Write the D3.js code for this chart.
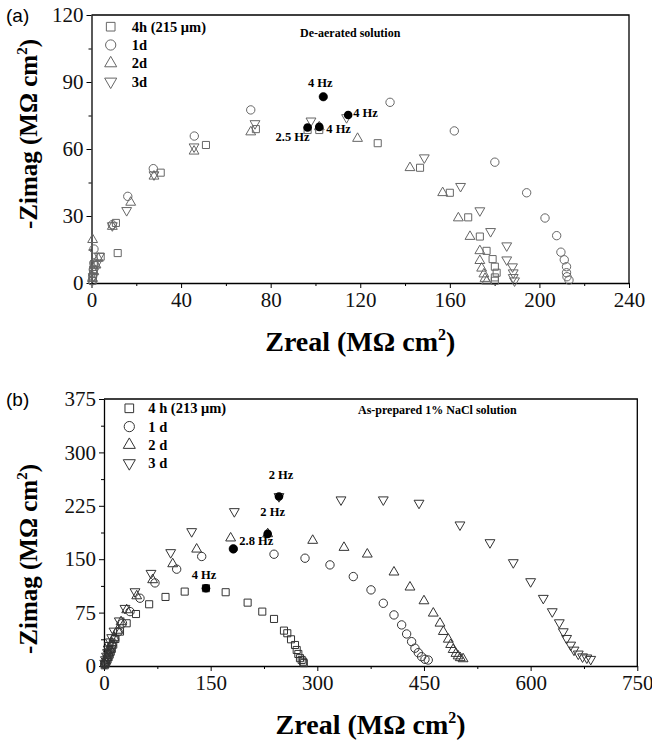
<!DOCTYPE html>
<html>
<head>
<meta charset="utf-8">
<script src="https://cdn.jsdelivr.net/npm/d3@7"></script>
<style>
  body { margin: 0; background: #fff; }
  svg { display: block; }
</style>
</head>
<body>
<svg id="chart" width="652" height="740"></svg>
<script>
// ---- panel (a) data, de-aerated solution ----
const seriesNamesA = ["4h (215 \u03bcm)", "1d", "2d", "3d"]
const h4A = [[0.5,1],[0.6,2.5],[0.7,4],[0.8,6],[1,8],[4.1,11.8],[11.7,13.4],[10.9,26.9],[30.9,49.4],[51.1,61.8],[73.4,68.9],[96.5,68.5],[101.7,68.5],[127.8,62.6],[146.7,51.6],[160,40.4],[168.2,29.4],[173.4,20.8],[176.4,14.4],[179.1,10.7],[180.1,7.3],[180.9,4.6],[180.1,2.5],[180.1,1]]
const d1A = [[0.3,1],[0.5,3],[0.8,6],[1.1,9],[1.1,15.2],[9.3,26.1],[16.2,38.8],[27.6,51.2],[45.9,65.8],[71.1,77.5],[103.5,83.4],[133.3,80.9],[162,68.1],[180.1,54.1],[194.3,40.4],[202.5,29.1],[207.7,21.2],[209.6,13.8],[211.1,10.4],[212.1,7.3],[212.1,4.6],[212.3,2.8],[213.2,1.3]]
const d2A = [[0.5,2],[1,5],[2,8],[3,11],[0.5,19.4],[9.3,25.3],[17.5,36.1],[27.9,47.8],[45.8,59],[71.1,67.6],[101.7,69.9],[118.8,64.7],[142.2,51.6],[156.8,40.4],[163.8,29.1],[169,20.8],[173.4,14.4],[173.4,10],[174.2,6.6],[175.2,4],[175.7,2],[176.5,0.8]]
const d3A = [[0.8,3],[1.5,6],[2.5,9],[3.5,12],[9.3,25.7],[15.7,32.5],[27.9,48.5],[45.8,61],[73,71.4],[98,72.6],[113.9,74.1],[148.6,56.1],[164.8,43.3],[173.4,32.4],[178.2,23.1],[185.4,16.7],[185.4,10.4],[188,7.3],[188.3,4.6],[188.3,2.5],[188.9,1]]
const peaksA = [[96.5,69.6],[103.5,83.4],[101.7,69.9],[114.6,75.2]]
const peakLabelsA = ["2.5 Hz", "4 Hz", "4 Hz", "4 Hz"]
const xTicksA = [0, 40, 80, 120, 160, 200, 240]
const yTicksA = [0, 30, 60, 90, 120]

// ---- panel (b) data, as-prepared 1% NaCl solution ----
const seriesNamesB = ["4 h (213 \u03bcm)", "1 d", "2 d", "3 d"]
const h4B = [[1,1],[2,3],[3.5,6],[5,9],[6.5,12.5],[8,16],[9.5,20],[11,24],[13,30],[16,38],[22.5,48.3],[31.9,60],[45,73],[63.5,86.7],[86.5,97],[113.5,104.5],[143.4,109.2],[171.1,103.6],[202,89],[222.6,76.4],[239.1,66.1],[253.1,49.7],[257.8,46],[263,37.5],[268.6,29.5],[271,22.5],[273.3,16.9],[275.6,11],[278,8.5],[280,6],[281,4]]
const d1B = [[1,2],[2,5],[4,10],[6,16],[8,22],[11,30],[15,38],[20,48],[26,60],[36.6,76.4],[50.6,95.2],[71.7,116.7],[102.2,136],[137.4,153.8],[181.9,164.5],[239.1,157],[282.7,151.4],[317.8,142],[350.6,125.6],[375.5,106.9],[392.8,88.1],[407.8,71.7],[418.6,57.7],[425.6,45],[432.6,34.2],[437.3,25],[442,18.7],[446.7,13.1],[451.4,9.4],[456,8.4]]
const d2B = [[1,3],[2,7],[4,12],[6,18],[8,25],[11,32],[14,40],[19,50],[24,62],[31.9,78.8],[46,98.4],[68.4,121],[96.6,143.4],[130.3,164],[178.1,179.6],[230.2,185.6],[293.5,176.3],[337.5,166.4],[370.3,157],[407.8,131.8],[430.3,110.7],[450,91.4],[463.1,74.1],[472.5,60],[477.2,48.3],[484.2,37.5],[487.5,30],[491,23],[495,17.5],[498,14],[501,11.5],[505,10]]
const d3B = [[1,4],[2,9],[3.5,14],[5,19],[6,24],[7.5,29],[9,34],[10.8,40],[14.1,49.2],[21.5,63.5],[29.5,81.1],[43.6,104.5],[66.1,130.3],[93.8,159.4],[123.3,188.9],[183.3,217],[246.1,238.1],[333.3,233.5],[392.8,233.5],[443,228.8],[500.6,198.3],[542.8,173.4],[575.6,145.3],[600,118.6],[617.8,95.2],[630.4,76.4],[640.3,60.9],[645.9,48.3],[650.6,38.9],[656.3,29.5],[661,22.5],[667,17],[673,13],[679,11.5],[684.5,9.5]]
const peaksB = [[143.4,109.2],[181.9,164.5],[230.2,185.6],[246.1,238.1]]
const peakLabelsB = ["4 Hz", "2.8 Hz", "2 Hz", "2 Hz"]
const xTicksB = [0, 150, 300, 450, 600, 750]
const yTicksB = [0, 75, 150, 225, 300, 375]

const serif = "'Liberation Serif', 'Times New Roman', serif"
const sans = "'Liberation Sans', Arial, sans-serif"

const svg = d3.select("#chart")

// marker shapes: square, circle, up triangle, down triangle
const shapes = [
    {type: d3.symbolSquare, size: 50, rot: 0},
    {type: d3.symbolCircle, size: 55, rot: 0},
    {type: d3.symbolTriangle, size: 42, rot: 0},
    {type: d3.symbolTriangle, size: 42, rot: 180}
]

const drawPanel = (cfg) => {
    let x = d3.scaleLinear().domain(cfg.xDomain).range([cfg.left, cfg.right]),
        y = d3.scaleLinear().domain(cfg.yDomain).range([cfg.bottom, cfg.top])

    let g = svg.append("g")

    // box top + right
    g.append("path")
        .attr("d", `M${cfg.left},${cfg.top}H${cfg.right}V${cfg.bottom}`)
        .attr("fill", "none").attr("stroke", "#000").attr("stroke-width", 1.3)

    // minor ticks
    let xStep = cfg.xTicks[1] - cfg.xTicks[0], yStep = cfg.yTicks[1] - cfg.yTicks[0]
    g.append("g").attr("transform", `translate(0,${cfg.bottom})`)
        .call(d3.axisBottom(x).tickValues(cfg.xTicks.slice(1).map(v => v - xStep / 2)).tickSize(3).tickFormat(""))
        .call(a => a.select(".domain").remove())
    g.append("g").attr("transform", `translate(${cfg.left},0)`)
        .call(d3.axisLeft(y).tickValues(cfg.yTicks.slice(1).map(v => v - yStep / 2)).tickSize(3).tickFormat(""))
        .call(a => a.select(".domain").remove())

    let xAxis = g.append("g").attr("transform", `translate(0,${cfg.bottom})`)
        .call(d3.axisBottom(x).tickValues(cfg.xTicks).tickSize(5).tickSizeOuter(0).tickPadding(4))
    let yAxis = g.append("g").attr("transform", `translate(${cfg.left},0)`)
        .call(d3.axisLeft(y).tickValues(cfg.yTicks).tickSize(5).tickSizeOuter(0).tickPadding(3))

    for (let ax of [xAxis, yAxis]) {
        ax.selectAll("text").style("font-family", serif).style("font-size", "21px").attr("fill", "#111")
        ax.select(".domain").attr("stroke-width", 1.3)
    }
    g.selectAll(".tick line").attr("stroke", "#000").attr("stroke-width", 1)

    // data points
    cfg.series.forEach((data, i) => {
        let s = shapes[i]
        g.append("g").selectAll("path")
            .data(data)
            .enter().append("path")
            .attr("d", d3.symbol().type(s.type).size(s.size))
            .attr("transform", d => `translate(${x(d[0])},${y(d[1])}) rotate(${s.rot})`)
            .attr("fill", "#fff").attr("fill-opacity", 0)
            .attr("stroke", cfg.markColor).attr("stroke-width", 1)
    })

    // characteristic frequency points
    g.append("g").selectAll("circle")
        .data(cfg.peaks)
        .enter().append("circle")
        .attr("cx", d => x(d[0])).attr("cy", d => y(d[1]))
        .attr("r", 4.3).attr("fill", "#000")

    g.append("g").selectAll("text")
        .data(cfg.peaks)
        .enter().append("text")
        .attr("x", (d, i) => x(d[0]) + cfg.labelOff[i][0])
        .attr("y", (d, i) => y(d[1]) + cfg.labelOff[i][1])
        .attr("text-anchor", (d, i) => cfg.labelOff[i][2])
        .style("font-family", serif).style("font-weight", "bold").style("font-size", "12.5px")
        .text((d, i) => cfg.peakLabels[i])

    // legend
    let leg = g.append("g").selectAll("g")
        .data(cfg.names)
        .enter().append("g")
        .attr("transform", (d, i) => `translate(${cfg.legX},${cfg.legY + i * 18.3})`)
    leg.append("path")
        .attr("d", (d, i) => d3.symbol().type(shapes[i].type).size(shapes[i].size * 1.5)())
        .attr("transform", (d, i) => `rotate(${shapes[i].rot})`)
        .attr("fill", "none").attr("stroke", cfg.markColor).attr("stroke-width", 1)
    leg.append("text")
        .attr("x", cfg.legText).attr("y", 5)
        .style("font-family", serif).style("font-weight", "bold").style("font-size", "14.5px")
        .text(d => d)

    g.append("text")
        .attr("x", cfg.noteX).attr("y", cfg.noteY)
        .style("font-family", serif).style("font-weight", "bold").style("font-size", "12px")
        .text(cfg.note)

    // panel letter
    g.append("text")
        .attr("x", 6).attr("y", cfg.top + 7)
        .style("font-family", sans).style("font-size", "19px")
        .text(cfg.letter)

    // axis titles
    let xt = g.append("text")
        .attr("x", (cfg.left + cfg.right) / 2).attr("y", cfg.bottom + 68)
        .attr("text-anchor", "middle")
        .style("font-family", serif).style("font-weight", "bold").style("font-size", "28px")
    xt.append("tspan").text("Zreal (M\u03a9 cm")
    xt.append("tspan").attr("dy", -11).style("font-size", "16px").text("2")
    xt.append("tspan").attr("dy", 11).text(")")

    let yt = g.append("text")
        .attr("transform", `translate(37,${cfg.yTitleY}) rotate(-90)`)
        .attr("text-anchor", "middle")
        .style("font-family", serif).style("font-weight", "bold").style("font-size", "25px")
    yt.append("tspan").text("-Zimag (M\u03a9 cm")
    yt.append("tspan").attr("dy", -10).style("font-size", "15px").text("2")
    yt.append("tspan").attr("dy", 10).text(")")
}

drawPanel({
    letter: "(a)", left: 91.5, right: 629, top: 15, bottom: 283,
    xDomain: [0, 240], yDomain: [0, 120], xTicks: xTicksA, yTicks: yTicksA,
    series: [h4A, d1A, d2A, d3A], names: seriesNamesA, markColor: "#666",
    peaks: peaksA, peakLabels: peakLabelsA,
    labelOff: [[2, 13, "end"], [-3, -10, "middle"], [7, 6.5, "start"], [5, 2, "start"]],
    legX: 110.7, legY: 26.7, legText: 21,
    note: "De-aerated solution", noteX: 300, noteY: 37,
    yTitleY: 134
})

drawPanel({
    letter: "(b)", left: 104, right: 637.3, top: 399, bottom: 666,
    xDomain: [0, 750], yDomain: [0, 375], xTicks: xTicksB, yTicks: yTicksB,
    series: [h4B, d1B, d2B, d3B], names: seriesNamesB, markColor: "#333",
    peaks: peaksB, peakLabels: peakLabelsB,
    labelOff: [[-2, -9, "middle"], [6, -4, "start"], [5, -18, "middle"], [2, -17, "middle"]],
    legX: 129.3, legY: 408.3, legText: 19,
    note: "As-prepared 1% NaCl solution", noteX: 358, noteY: 414,
    yTitleY: 559
})
</script>
</body>
</html>
